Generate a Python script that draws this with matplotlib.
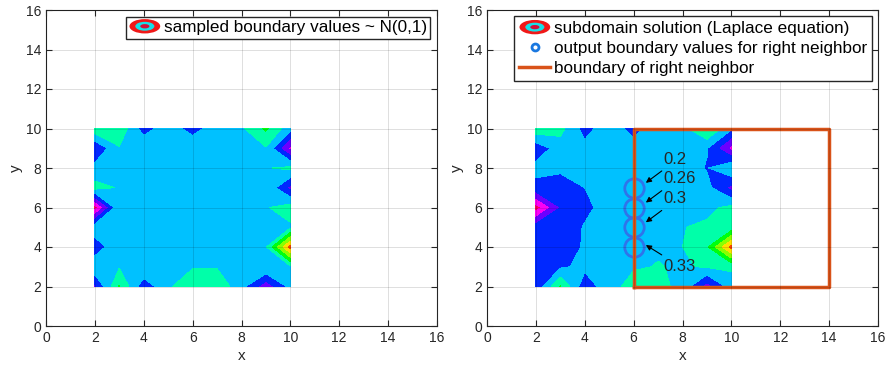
import numpy as np
import matplotlib
matplotlib.use('Agg')
from matplotlib import pyplot as plt
from matplotlib.lines import Line2D
from matplotlib.patches import Ellipse
from matplotlib.legend_handler import HandlerBase

plt.rcParams['font.family'] = ['Liberation Sans', 'DejaVu Sans']

# grid nodes of the subdomain
xs = [2, 3, 4, 5, 6, 7, 8, 9, 10]
ys = [2, 3, 4, 5, 6, 7, 8, 9, 10]

# left panel: sampled boundary values, interior constant
left_top = [0.8, 0.85, -0.5, 0.2, -0.5, 0.2, 0.3, 1.1, 0.0]       # y=10, x=2..10
left_bottom = [-0.9, 1.05, -0.6, 0.3, 0.85, 0.85, 0.0, -1.2, 0.0]  # y=2,  x=2..10
left_left = [0.3, -0.6, 0.2, -2.3, 0.6, 0.0, -0.75]               # x=2,  y=3..9
left_right = [0.3, 3.0, 0.3, 0.7, -1.0, 0.55, -1.6]               # x=10, y=3..9
left_interior = 0.35

# right panel: subdomain solution, rows from y=10 down to y=2
right_rows = [
    [0.8, 0.6, -0.45, 0.2, -0.45, 0.2, 0.2, 1.05, -0.1],
    [-0.6, 0.1, 0.0, 0.05, 0.1, 0.2, 0.2, -0.15, -1.6],
    [0.0, -0.1, 0.0, 0.1, 0.18, 0.22, 0.15, -0.25, 0.4],
    [-0.4, -0.45, -0.2, 0.05, 0.2, 0.25, 0.2, 0.0, -1.0],
    [-2.3, -0.8, -0.35, 0.05, 0.26, 0.3, 0.3, 0.25, 0.55],
    [-0.5, -0.6, -0.15, 0.05, 0.3, 0.33, 0.38, 0.5, 0.6],
    [-0.5, -0.45, -0.15, 0.1, 0.33, 0.35, 0.4, 0.9, 3.0],
    [-0.3, -0.3, -0.05, 0.15, 0.35, 0.42, 0.35, 0.45, 0.5],
    [-0.7, 1.05, -0.6, 0.2, 0.6, 0.6, 0.2, -1.1, 0.1],
]

# output values for the right neighbor (at x=6)
probe_x = 6
probe_y = [7, 6, 5, 4]
probe_vals = [0.2, 0.26, 0.3, 0.33]

# right neighbor box: x0, x1, y0, y1
nb_box = [6, 14, 2, 10]

levels = np.linspace(-2.6, 3.4, 11)
cmap = 'hsv_r'
orange = '#D95319'
ring_blue = '#2f74ea'
legend_fs = 12.3


class ContourProxy(object):
    pass


class ContourIcon(HandlerBase):
    def create_artists(self, legend, orig_handle, xdescent, ydescent,
                       width, height, fontsize, trans):
        cx = width / 2.0 - xdescent
        cy = height / 2.0 - ydescent
        out = []
        for sc, col in [(1.0, '#f01818'), (0.62, '#16e0e8'), (0.3, '#d0103a')]:
            e = Ellipse((cx, cy), width * sc, height * 1.2 * sc,
                        facecolor=col, edgecolor='none', transform=trans)
            out.append(e)
        return out


def style_axes(ax):
    ax.set_xlim(0, 16)
    ax.set_ylim(0, 16)
    ax.set_xticks(range(0, 17, 2))
    ax.set_yticks(range(0, 17, 2))
    ax.grid(True, color='k', alpha=0.13, lw=0.7)
    ax.set_axisbelow(False)
    ax.tick_params(direction='in', top=True, right=True, labelsize=10,
                   colors='#262626', length=4)
    for s in ax.spines.values():
        s.set_color('#262626')
        s.set_linewidth(0.8)
    ax.set_xlabel('x', fontsize=11, color='#262626', labelpad=3)
    ax.set_ylabel('y', fontsize=11, color='#262626', labelpad=2)


# build left grid
Zl = np.full((len(ys), len(xs)), left_interior)
Zl[-1, :] = left_top
Zl[0, :] = left_bottom
Zl[1:-1, 0] = left_left
Zl[1:-1, -1] = left_right

Zr = np.array(right_rows)[::-1]

X, Y = np.meshgrid(xs, ys)

fig = plt.figure(figsize=(8.89, 3.68), dpi=100)
ax1 = fig.add_axes([46 / 889, 42 / 368, 391 / 889, 316 / 368])
ax2 = fig.add_axes([487 / 889, 42 / 368, 391 / 889, 316 / 368])

ax1.contourf(X, Y, Zl, levels=levels, cmap=cmap)
style_axes(ax1)
ax1.legend([ContourProxy()], ['sampled boundary values ~ N(0,1)'],
           handler_map={ContourProxy: ContourIcon()},
           loc='upper right', fontsize=legend_fs, fancybox=False,
           edgecolor='#262626', framealpha=1, borderaxespad=0.4,
           handlelength=1.8, handletextpad=0.2, borderpad=0.2)

ax2.contourf(X, Y, Zr, levels=levels, cmap=cmap)
ax2.plot([probe_x] * len(probe_y), probe_y, 'o', ms=14, mfc='none',
         mec=ring_blue, mew=2)
bx0, bx1, by0, by1 = nb_box
ax2.plot([bx0, bx1, bx1, bx0, bx0], [by0, by0, by1, by1, by0],
         color=orange, lw=2.5)

for i in range(len(probe_y)):
    py = probe_y[i]
    if i < len(probe_y) - 1:
        head = (probe_x + 0.5, py + 0.25)
        tail = (probe_x + 1.15, py + 0.85)
        tpos = (probe_x + 1.2, py + 1.45)
    else:
        head = (probe_x + 0.5, py + 0.1)
        tail = (probe_x + 1.15, py - 0.4)
        tpos = (probe_x + 1.2, py - 1.0)
    ax2.annotate('', xy=head, xytext=tail,
                 arrowprops=dict(arrowstyle='-|>', color='k', lw=0.8,
                                 mutation_scale=8, shrinkA=0, shrinkB=0))
    ax2.text(tpos[0], tpos[1], '%g' % probe_vals[i], fontsize=12,
             ha='left', va='center', color='#262626')

style_axes(ax2)
handles = [ContourProxy(),
           Line2D([], [], ls='none', marker='o', ms=5, mfc='none',
                  mec='#1a78e0', mew=2),
           Line2D([], [], color=orange, lw=2.5)]
labels = ['subdomain solution (Laplace equation)',
          'output boundary values for right neighbor',
          'boundary of right neighbor']
ax2.legend(handles, labels, handler_map={ContourProxy: ContourIcon()},
           loc='upper right', fontsize=legend_fs, fancybox=False,
           edgecolor='#262626', framealpha=1, borderaxespad=0.35,
           handlelength=1.8, handletextpad=0.2, borderpad=0.3,
           labelspacing=0.3)

fig.savefig('out.png', dpi=100)
